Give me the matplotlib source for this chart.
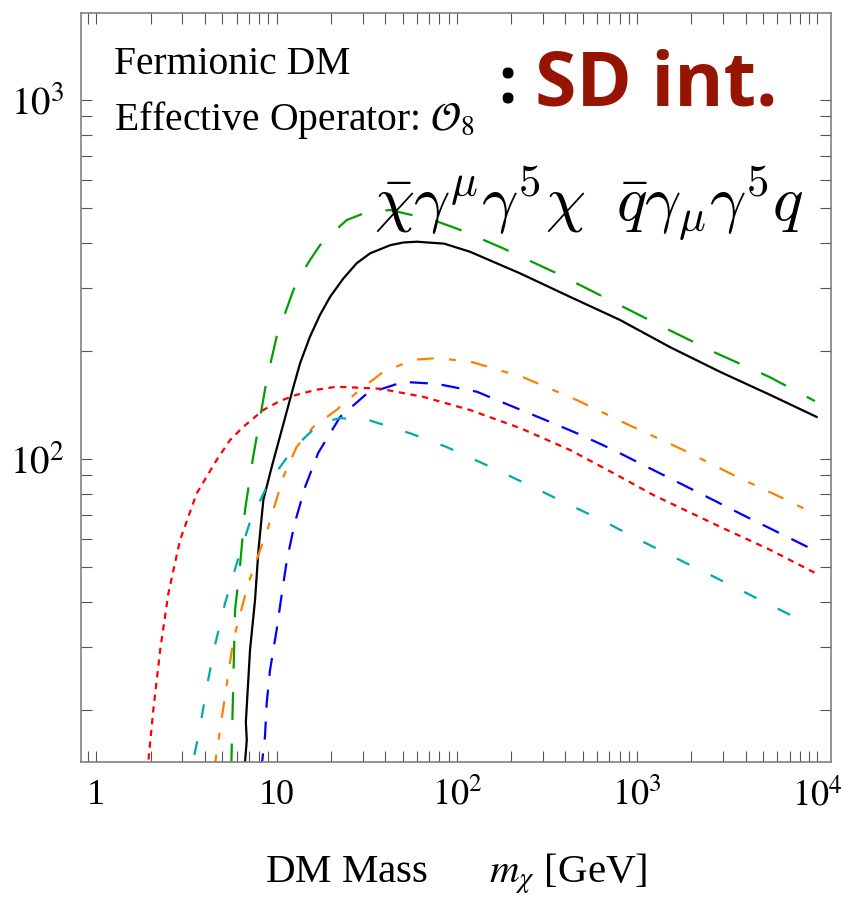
import numpy as np
import matplotlib
matplotlib.use("Agg")
import matplotlib.pyplot as plt
from matplotlib.ticker import FixedLocator, FixedFormatter, NullFormatter

plt.rcParams["font.family"] = ["Liberation Serif", "DejaVu Serif"]
plt.rcParams["mathtext.fontset"] = "stix"
plt.rcParams["lines.scale_dashes"] = False

# --- curves: DM mass [GeV] vs. value ---
black_m = [6.6, 6.68, 6.83, 6.75, 7.12, 7.59, 7.93, 8.44, 9.39, 12.4, 13.5, 15.3, 17.4,
           19.8, 23.4, 27.8, 33.0, 42.6, 50.5, 59.8, 85, 118, 224, 424, 803, 1521,
           2878, 5450, 9900]
black_v = [13.5, 14.3, 16.5, 18.5, 29.4, 40.5, 55.8, 76.9, 95, 159, 185, 219, 252,
           283, 318, 351, 374, 394, 401, 403, 398, 378, 329, 283, 244, 205,
           175, 151, 131]

green_m = [5.6, 5.64, 5.88, 6.27, 6.68, 7.40, 8.81, 10.0, 12.4, 13.8, 15.3, 17.4, 19.8,
           24.5, 30.3, 42.6, 74, 104, 181, 358, 707, 1396, 2761, 5450, 9680]
green_v = [13.5, 16.0, 37.9, 50.7, 72.1, 101, 166, 219, 296, 329, 358, 394, 421,
           463, 483, 494, 463, 435, 386, 329, 277, 233, 197, 169, 145]

orange_m = [4.5, 4.61, 5.17, 5.75, 6.97, 9.0, 10.9, 12.9, 16.0, 21.5, 29.0, 39.1, 57.3,
            77.3, 118, 233, 462, 912, 1803, 3565, 6750, 9680]
orange_v = [13.5, 14.8, 21.8, 31.3, 45.1, 64.8, 89.3, 108, 123, 137, 156, 175, 189,
            191, 187, 169, 146, 124, 106, 89.3, 76.9, 70.3]

blue_m = [8.2, 8.62, 8.81, 9.19, 10.0, 10.7, 11.4, 12.6, 14.4, 17.0, 22.5, 31.6, 50.5,
          77.3, 129, 197, 315, 482, 738, 1130, 1727, 2642, 4050, 6200, 9680]
blue_v = [13.5, 16.9, 20.9, 25.8, 33.4, 42.3, 52.3, 66.3, 83.7, 104, 131, 152, 164,
          162, 154, 141, 128, 117, 106, 95.2, 85.6, 76.9, 69.0, 62.1, 55.6]

red_m = [1.92, 1.94, 2.07, 2.26, 2.51, 2.91, 3.60, 4.65, 5.52, 6.54, 8.44, 10.4, 12.9,
         16.7, 21.5, 37.5, 65.1, 118, 224, 424, 803, 1229, 2878, 5450, 9680]
red_v = [13.5, 14.3, 20.0, 29.4, 42.3, 59.4, 80.2, 99.4, 113, 123, 137, 145, 151,
         156, 159, 157, 149, 137, 122, 106, 89.3, 79.4, 64.8, 55.9, 48.2]

cyan_m = [3.5, 3.76, 4.10, 4.55, 5.17, 6.01, 7.12, 9.0, 12.4, 17.4, 22.5, 33.0, 54.9,
          87.8, 146, 239, 389, 635, 1037, 1690, 2761, 4500, 7900]
cyan_v = [15.0, 17.9, 23.2, 30.3, 39.6, 51.2, 66.9, 85.6, 107, 126, 130, 128, 118,
          108, 96.2, 85.6, 76.0, 67.6, 59.4, 52.6, 46.6, 41.2, 35.8]

x_major = [1, 10, 100, 1000, 10000]
x_major_labels = ["1", "10", "$10^2$", "$10^3$", "$10^4$"]
y_major = [100, 1000]
y_major_labels = ["$10^2$", "$10^3$"]

fig = plt.figure(figsize=(8.48, 9.01), dpi=100)
W, H = 848, 901
ax = fig.add_axes([81 / W, (H - 762) / H, 750 / W, 749 / H])
ax.set_xscale("log")
ax.set_yscale("log")
ax.set_xlim(0.822, 11890)
ax.set_ylim(14.33, 1747)

lw = 1.6
ax.plot(green_m, green_v, color="#00a000", lw=lw, dashes=(20, 17))
ax.plot(black_m, black_v, color="black", lw=lw)
ax.plot(orange_m, orange_v, color="#ff8000", lw=lw, dashes=(12, 11, 5, 11))
ax.plot(blue_m, blue_v, color="#0000ff", lw=lw, dashes=(13, 10))
ax.plot(red_m, red_v, color="#ff0000", lw=lw, dashes=(4.5, 4))
ax.plot(cyan_m, cyan_v, color="#00aaaa", lw=lw, dashes=(10, 17))

# ticks, Mathematica style
x_minor = [0.9] + [k * 10 ** d for d in range(0, 4) for k in range(2, 10)]
y_minor = [k * 10 ** d for d in range(1, 3) for k in range(2, 10)]
ax.xaxis.set_major_locator(FixedLocator(x_major))
ax.xaxis.set_major_formatter(FixedFormatter(x_major_labels))
ax.xaxis.set_minor_locator(FixedLocator(x_minor))
ax.xaxis.set_minor_formatter(NullFormatter())
ax.yaxis.set_major_locator(FixedLocator(y_major))
ax.yaxis.set_major_formatter(FixedFormatter(y_major_labels))
ax.yaxis.set_minor_locator(FixedLocator(y_minor))
ax.yaxis.set_minor_formatter(NullFormatter())
ax.tick_params(which="both", direction="in", top=True, right=True,
               length=8, width=0.8, color="#555555")
ax.tick_params(axis="x", which="major", labelsize=26, pad=12)
ax.tick_params(axis="y", which="major", labelsize=28, pad=12)
for s in ax.spines.values():
    s.set_color("#808080")
    s.set_linewidth(1.2)

ax.set_xlabel(r"DM Mass $\quad\;\;\, m_\chi$ [GeV]", fontsize=29.5, labelpad=27)

# annotations (figure pixel positions)
def fpos(x, y):
    return x / W, 1 - y / H

fig.text(*fpos(114, 74), "Fermionic DM", fontsize=28.5, ha="left", va="baseline")
fig.text(*fpos(114, 130), r"Effective Operator: $\mathcal{O}_8$", fontsize=28.5,
         ha="left", va="baseline")
fig.text(*fpos(498, 104), ":", fontsize=46, fontweight="bold", family="Open Sans",
         ha="left", va="baseline", color="black")
fig.text(*fpos(535, 105), "SD int.", fontsize=54, fontweight="bold", family="Open Sans",
         ha="left", va="baseline", color="#961400")
fig.text(*fpos(374, 221), r"$\bar{\chi}\gamma^\mu\gamma^5\chi\;\; \bar{q}\gamma_\mu\gamma^5 q$",
         fontsize=46, ha="left", va="baseline", math_fontfamily="cm")

fig.savefig("out.png", dpi=100)
